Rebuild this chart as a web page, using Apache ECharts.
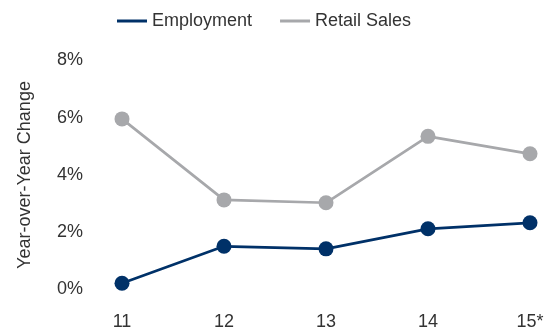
<!DOCTYPE html>
<html>
<head>
<meta charset="utf-8">
<script src="https://cdn.jsdelivr.net/npm/echarts@6/dist/echarts.min.js"></script>
<style>
  html, body { margin: 0; padding: 0; background: #fff; }
  #chart { width: 556px; height: 332px; }
</style>
</head>
<body>
<div id="chart"></div>
<script>
// data
var years = ['11', '12', '13', '14', '15*'];
var employment = [0.22, 1.51, 1.42, 2.12, 2.33];
var retailSales = [5.96, 3.13, 3.03, 5.35, 4.74];

var chart = echarts.init(document.getElementById('chart'));

var font = 'Liberation Sans, Arial, Helvetica, sans-serif';

var option = {
  animation: false,
  textStyle: { fontFamily: font },
  legend: {
    top: 7,
    left: 112,
    itemWidth: 30,
    itemHeight: 3,
    itemGap: 28,
    icon: 'rect',
    textStyle: { fontSize: 18, color: '#333', fontFamily: font },
    data: ['Employment', 'Retail Sales']
  },
  grid: {
    left: 122,
    right: 26,
    top: 60.5,
    bottom: 42.5,
    outerBoundsMode: 'none'
  },
  xAxis: {
    type: 'category',
    data: years,
    boundaryGap: false,
    axisLine: { show: false },
    axisTick: { show: false },
    axisLabel: { fontSize: 18, color: '#333', margin: 24, fontFamily: font }
  },
  yAxis: {
    type: 'value',
    min: 0,
    max: 8,
    interval: 2,
    name: 'Year-over-Year Change',
    nameLocation: 'middle',
    nameGap: 88,
    nameTextStyle: { fontSize: 18, color: '#333', fontFamily: font },
    axisLine: { show: false },
    axisTick: { show: false },
    splitLine: { show: false },
    axisLabel: { fontSize: 18, color: '#333', margin: 39, formatter: '{value}%', fontFamily: font }
  },
  series: [
    {
      name: 'Employment',
      type: 'line',
      data: employment,
      symbol: 'circle',
      symbolSize: 15,
      color: '#003168',
      lineStyle: { width: 2.7, color: '#003168' },
      itemStyle: { color: '#003168' }
    },
    {
      name: 'Retail Sales',
      type: 'line',
      data: retailSales,
      symbol: 'circle',
      symbolSize: 15,
      color: '#a7a8ab',
      lineStyle: { width: 2.7, color: '#a7a8ab' },
      itemStyle: { color: '#a7a8ab' }
    }
  ]
};

chart.setOption(option);
</script>
</body>
</html>
